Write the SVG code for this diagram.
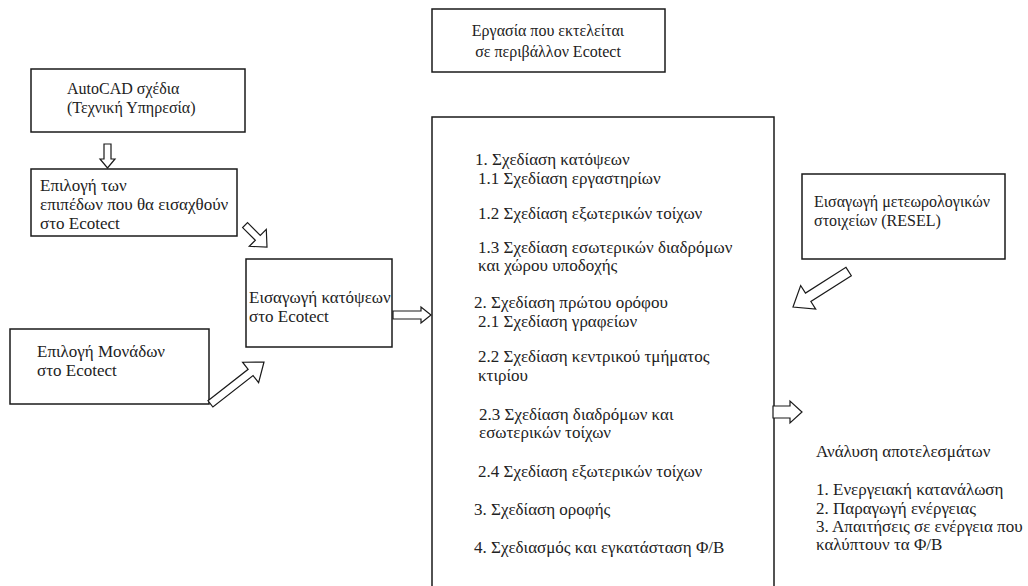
<svg xmlns="http://www.w3.org/2000/svg" width="1028" height="586" viewBox="0 0 1028 586">
<style>
.box{fill:#fff;stroke:#1a1a1a;stroke-width:1.5}
.arr{fill:#fff;stroke:#1a1a1a;stroke-width:1.2;stroke-linejoin:miter}
text{font-family:"Liberation Serif","DejaVu Serif",serif;font-size:17px;fill:#222}
.s16{font-size:16px}
</style>
<rect width="1028" height="586" fill="#fff"/>
<g id="node-title">
<rect class="box" x="432" y="9" width="233" height="63"/>
<text class="s16" x="548" y="36" text-anchor="middle">Εργασία που εκτελείται</text>
<text class="s16" x="548" y="57" text-anchor="middle">σε περιβάλλον Ecotect</text>
</g>
<g id="node-autocad">
<rect class="box" x="31" y="69" width="214" height="63"/>
<text class="s16" x="67" y="94">AutoCAD σχέδια</text>
<text class="s16" x="67" y="113">(Τεχνική Υπηρεσία)</text>
</g>
<g id="node-layers">
<rect class="box" x="31" y="169" width="206" height="67"/>
<text x="40" y="191">Επιλογή των</text>
<text x="40" y="210">επιπέδων που θα εισαχθούν</text>
<text x="40" y="229">στο Ecotect</text>
</g>
<g id="node-import">
<rect class="box" x="246" y="259" width="146" height="88"/>
<text x="249" y="303">Εισαγωγή κατόψεων</text>
<text x="249" y="322">στο Ecotect</text>
</g>
<g id="node-units">
<rect class="box" x="10" y="329" width="199" height="75"/>
<text x="37" y="357">Επιλογή Μονάδων</text>
<text x="37" y="376">στο Ecotect</text>
</g>
<g id="node-main">
<rect class="box" x="432" y="117" width="342" height="480"/>
<text x="475" y="165">1. Σχεδίαση κατόψεων</text>
<text x="478" y="184">1.1 Σχεδίαση εργαστηρίων</text>
<text x="478" y="219">1.2 Σχεδίαση εξωτερικών τοίχων</text>
<text x="478" y="253">1.3 Σχεδίαση εσωτερικών διαδρόμων</text>
<text x="478" y="271">και χώρου υποδοχής</text>
<text x="474" y="308">2. Σχεδίαση πρώτου ορόφου</text>
<text x="478" y="327">2.1 Σχεδίαση γραφείων</text>
<text x="478" y="362">2.2 Σχεδίαση κεντρικού τμήματος</text>
<text x="478" y="381">κτιρίου</text>
<text x="479" y="420">2.3 Σχεδίαση διαδρόμων και</text>
<text x="479" y="438">εσωτερικών τοίχων</text>
<text x="478" y="477">2.4 Σχεδίαση εξωτερικών τοίχων</text>
<text x="474" y="515">3. Σχεδίαση οροφής</text>
<text x="474" y="553">4. Σχεδιασμός και εγκατάσταση Φ/Β</text>
</g>
<g id="node-resel">
<rect class="box" x="802" y="174" width="203" height="85"/>
<text class="s16" x="814" y="207">Εισαγωγή μετεωρολογικών</text>
<text class="s16" x="814" y="226">στοιχείων (RESEL)</text>
</g>
<g id="node-results">
<text x="816" y="457">Ανάλυση αποτελεσμάτων</text>
<text x="816" y="495">1. Ενεργειακή κατανάλωση</text>
<text x="816" y="514">2. Παραγωγή ενέργειας</text>
<text x="816" y="532">3. Απαιτήσεις σε ενέργεια που</text>
<text x="816" y="550">καλύπτουν τα Φ/Β</text>
</g>
<g id="connectors">
<polygon class="arr" points="104,144 111,144 111,159 115,159 107.5,168 100,159 104,159"/>
<polygon class="arr" transform="translate(267,247) rotate(45)" points="-31,-3.5 -13,-3.5 -13,-12 0,0 -13,12 -13,3.5 -31,3.5"/>
<polygon class="arr" transform="translate(264,362) rotate(-38)" points="-68,-4 -17,-4 -17,-13 0,0 -17,13 -17,4 -68,4"/>
<polygon class="arr" transform="translate(793,307) rotate(147.5)" points="-66,-5 -18,-5 -18,-14 0,0 -18,14 -18,5 -66,5"/>
<polygon class="arr" points="393,311 421,311 421,307 431,315 421,323 421,319 393,319"/>
<polygon class="arr" points="773,406 790,406 790,401 802,412 790,423 790,418 773,418"/>
</g>
</svg>
